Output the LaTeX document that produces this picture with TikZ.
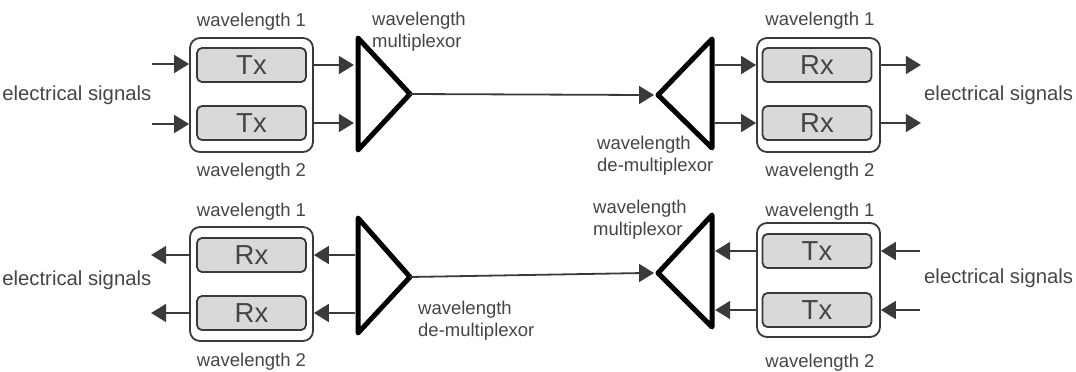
\documentclass[tikz,border=0pt]{standalone}
\usepackage{fontspec}
\setmainfont{Liberation Sans}
\usetikzlibrary{arrows.meta}
\definecolor{linec}{HTML}{3A3A3A}
\definecolor{fillc}{HTML}{D9D9D9}
\definecolor{textc}{HTML}{454545}
\tikzset{
  outerbox/.style={draw=linec, line width=1.8pt, rounded corners=10pt, minimum width=123pt, minimum height=114pt, inner sep=0pt},
  innerbox/.style={draw=linec, fill=fillc, line width=1.8pt, rounded corners=5pt, minimum width=109pt, minimum height=34pt, inner sep=0pt, text=textc, font=\fontsize{27.5}{27.5}\selectfont},
  tri/.style={draw=black, line width=5pt, line join=round},
  arr/.style={draw=linec, line width=1.8pt, -{Triangle[length=15pt,width=18pt]}},
  lab/.style={text=textc, font=\fontsize{18.5}{22}\selectfont, inner sep=0pt},
  sig/.style={text=textc, font=\fontsize{20.3}{22}\selectfont, inner sep=0pt},
}
\begin{document}
\begin{tikzpicture}[x=1pt,y=-1pt]
\useasboundingbox (0,0) rectangle (1076,372);
% ---------- top row ----------
\node[outerbox] (o1) at (251.5,95) {};
\node[innerbox] (a1) at (251.5,65) {Tx};
\node[innerbox] (a2) at (251.5,123) {Tx};
\coordinate (t1a) at (358,38);
\coordinate (t1b) at (410,94);
\coordinate (t1c) at (358,150);
\draw[tri] (t1a) -- (t1b) -- (t1c) -- cycle;
\coordinate (i1) at (152,64);
\coordinate (i2) at (152,124);
\draw[arr] (i1) -- (i1 -| o1.west);
\draw[arr] (i2) -- (i2 -| o1.west);
\draw[arr] (a1.east -| o1.east) -- ++(40,0);
\draw[arr] (a2.east -| o1.east) -- ++(40,0);
\node[sig, anchor=east] (es1) at (151.5,95) {electrical signals};
\node[lab] (w11) at (251.5,22) {wavelength 1};
\node[lab] (w12) at (251.5,172) {wavelength 2};
\node[lab, align=left, anchor=north west] (mux1) at (372,12) {wavelength\\multiplexor};

\coordinate (t2a) at (712,39);
\coordinate (t2b) at (658,95);
\coordinate (t2c) at (712,148);
\draw[tri] (t2a) -- (t2b) -- (t2c) -- cycle;
\draw[line width=1.8pt, draw=linec] (t1b) -- ([xshift=-14pt]t2b);
\draw[arr] ([xshift=-18pt]t2b) -- ([xshift=-4pt]t2b);
\node[outerbox] (o2) at (818.5,95) {};
\node[innerbox] (b1) at (817,65) {Rx};
\node[innerbox] (b2) at (817,123) {Rx};
\draw[arr] (b1.west -| t2a) ++(3,0) -- (b1.west -| o2.west);
\draw[arr] (b2.west -| t2a) ++(3,0) -- (b2.west -| o2.west);
\draw[arr] (b1.east -| o2.east) -- ++(40,0);
\draw[arr] (b2.east -| o2.east) -- ++(40,0);
\node[sig, anchor=west] (es2) at (924,95) {electrical signals};
\node[lab] (w21) at (820,21) {wavelength 1};
\node[lab] (w22) at (820,172) {wavelength 2};
\node[lab, align=left, anchor=north west] (dmx1) at (597,136) {wavelength\\de-multiplexor};

% ---------- bottom row ----------
\node[outerbox] (o3) at (251.5,284) {};
\node[innerbox] (c1) at (251.5,255) {Rx};
\node[innerbox] (c2) at (251.5,313) {Rx};
\coordinate (t3a) at (358,218);
\coordinate (t3b) at (410,277);
\coordinate (t3c) at (358,333);
\draw[tri] (t3a) -- (t3b) -- (t3c) -- cycle;
\draw[arr] (c1.west -| o3.west) -- ++(-38,0);
\draw[arr] (c2.west -| o3.west) -- ++(-38,0);
\draw[arr] (c1.east -| t3a) ++(-3,0) -- (c1.east -| o3.east);
\draw[arr] (c2.east -| t3a) ++(-3,0) -- (c2.east -| o3.east);
\node[sig, anchor=east] (es3) at (151.5,280) {electrical signals};
\node[lab] (w31) at (251.5,212) {wavelength 1};
\node[lab] (w32) at (251.5,362) {wavelength 2};
\node[lab, align=left, anchor=north west] (dmx2) at (418,301) {wavelength\\de-multiplexor};

\coordinate (t4a) at (712,215);
\coordinate (t4b) at (658,273);
\coordinate (t4c) at (712,327);
\draw[tri] (t4a) -- (t4b) -- (t4c) -- cycle;
\draw[line width=1.8pt, draw=linec] (t3b) -- ([xshift=-14pt]t4b);
\draw[arr] ([xshift=-18pt]t4b) -- ([xshift=-4pt]t4b);
\node[outerbox] (o4) at (818.5,280) {};
\node[innerbox] (d1) at (817,251) {Tx};
\node[innerbox] (d2) at (817,310) {Tx};
\draw[arr] (d1.west -| o4.west) -- ++(-41,0);
\draw[arr] (d2.west -| o4.west) -- ++(-41,0);
\coordinate (j1) at (920,251);
\coordinate (j2) at (920,310);
\draw[arr] (j1) -- (j1 -| o4.east);
\draw[arr] (j2) -- (j2 -| o4.east);
\node[sig, anchor=west] (es4) at (924,278) {electrical signals};
\node[lab] (w41) at (820,212) {wavelength 1};
\node[lab] (w42) at (820,363) {wavelength 2};
\node[lab, align=left, anchor=north west] (mux2) at (593,200) {wavelength\\multiplexor};
\end{tikzpicture}
\end{document}
